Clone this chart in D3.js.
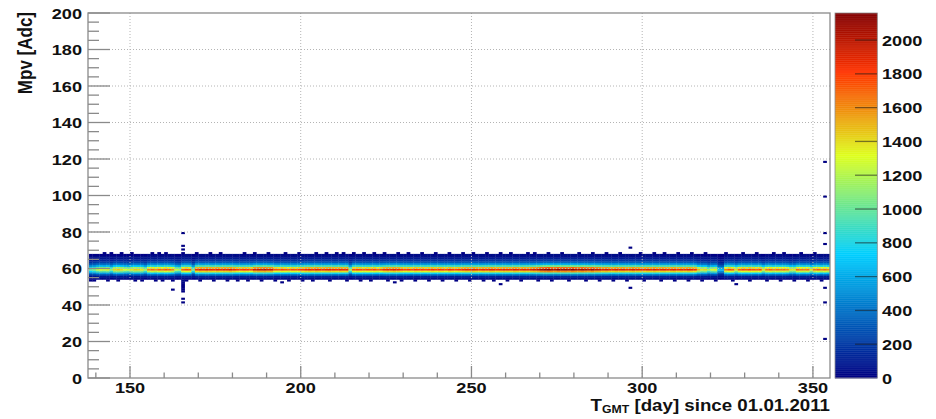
<!DOCTYPE html>
<html><head><meta charset="utf-8">
<script src="https://cdn.jsdelivr.net/npm/d3@7"></script>
<style>
body{margin:0;background:#fff}
text{font-family:"Liberation Sans",Arial,Helvetica,sans-serif;font-weight:bold;fill:#111}
</style>
</head><body>
<svg id="c" width="936" height="419"></svg>
<script>
// ---------- data ----------
const dayStart = 138; // first 1-day bin
// peak (Mpv ~59-60 Adc bin) entries per day, days 138..354
const peakCounts = [
 1000,1080,1250,1320,1280,1350,1100,1420,1460,1400,
 1300,1250,1380,1450,1420,1380,1150,1620,1680,1600,
 1700,1650,1720,1680,1600,1250,1180,1700,1760,1720,
 1050,1850,1900,1870,1920,1880,1850,1900,1860,1890,
 1880,1920,1860,1800,1780,1820,1800,1760,1950,1980,
 1960,2000,1940,1950,1750,1720,1780,1740,1700,1760,
 1730,1770,1800,1860,1880,1840,1900,1870,1850,1880,
 1900,1860,1840,1880,1850,1870,1150,1750,1780,1760,
 1720,1760,1740,1780,1700,1760,1850,1880,1860,1900,
 1870,1820,1780,1800,1760,1820,1790,1810,1770,1800,
 1830,1780,1820,1800,1760,1840,1800,1780,1820,1850,
 1880,1860,1900,1870,1840,1880,1860,1900,1880,1850,
 1870,1900,1880,1860,1920,1890,1870,1900,1880,1920,
 1950,1990,2080,2120,2150,2100,2060,2130,2090,2110,
 2070,2140,2080,2050,2100,2060,2020,2080,2000,1980,
 1920,1950,1900,1880,1930,1900,1920,1880,1900,1940,
 1900,1880,1860,1900,1880,1920,1870,1890,1900,1860,
 1880,1900,1850,1880,1860,1900,1870,1840,1500,1380,
 1420,1150,1300,1350,700,650,1650,1750,1700,1420,
 1700,1760,1720,1780,1740,1700,1760,1400,1650,1700,
 1620,1680,1640,1660,1600,1400,1380,1680,1650,1620,
 1660,1400,1650,1700,1620,1680,1600
];
// Mpv bins of the band and their share of the peak bin
const profileBins  = [54,55,56,57,58,59,60,61,62,63,64,65,66,67];
const profileShape = [0.02,0.05,0.18,0.42,0.75,1.0,0.8,0.5,0.3,0.17,0.1,0.055,0.03,0.015];
// days where the band reaches one bin higher / lower
const topExtraDays = [142,144,147,150,156,158,160,165,169,173,176,183,186,190,195,199,204,207,210,212,215,218,221,224,228,231,235,239,243,247,250,254,258,261,266,268,272,276,281,285,289,293,299,303,306,310,314,318,324,329,333,338,341,346,350];
const bottomExtraDays = [138,139,143,146,151,153,157,159,162,166,170,174,178,181,184,188,192,196,200,203,208,213,217,220,225,229,233,237,241,245,249,253,256,260,264,269,273,278,283,287,291,295,300,305,309,313,317,321,326,331,336,340,344,348,352];
// isolated entries: [day, Mpv bin, count]
const outliers = [
 [165,79,4],[165,72,3],[165,70,5],[165,53,30],[165,52,25],[165,51,20],[165,50,15],[165,49,12],[165,48,10],[165,47,8],[165,43,4],[165,41,4],
 [162,48,4],[194,52,4],[227,52,3],[258,51,4],[296,71,4],[296,49,4],[327,51,4],
 [353,118,3],[353,99,3],[353,79,3],[353,73,3],[353,49,3],[353,41,3],[353,21,3]
];
const xTicks = [150,200,250,300,350];
const yTicks = [0,20,40,60,80,100,120,140,160,180,200];
const zTicks = [0,200,400,600,800,1000,1200,1400,1600,1800,2000];
const zMax = 2160;
const paletteStops = [0,0.34,0.61,0.84,1.0];
const paletteColors = ["rgb(0,0,130)","rgb(0,207,255)","rgb(222,255,31)","rgb(255,51,0)","rgb(130,0,0)"];

// ---------- drawing ----------
const svg = d3.select("#c");
const x = d3.scaleLinear().domain([137.7,355]).range([88,830]);
const y = d3.scaleLinear().domain([0,200]).range([378,13]);
const zAx = d3.scaleLinear().domain([0,zMax]).range([378,13]);
const color = d3.scaleLinear().domain(paletteStops.map(s=>s*zMax)).range(paletteColors)
  .interpolate(d3.interpolateRgb).clamp(true);
const SX = 1.17; // horizontal stretch of the lettering

// cells
const cells = [];
peakCounts.forEach((p,i)=>{
  const day = dayStart+i;
  profileBins.forEach((b,j)=>cells.push({day, bin:b, v:Math.max(8,p*profileShape[j])}));
});
topExtraDays.forEach(d=>cells.push({day:d, bin:68, v:10}));
bottomExtraDays.forEach(d=>cells.push({day:d, bin:53, v:10}));
outliers.forEach(o=>cells.push({day:o[0], bin:o[1], v:o[2]}));

const defs = svg.append("defs");
defs.append("filter").attr("id","soft").attr("x","-5%").attr("y","-50%").attr("width","110%").attr("height","200%")
  .append("feGaussianBlur").attr("stdDeviation","0.45");
defs.append("clipPath").attr("id","frame").append("rect").attr("x",88).attr("y",13).attr("width",742).attr("height",365);

svg.append("g").attr("clip-path","url(#frame)").append("g").attr("filter","url(#soft)")
  .selectAll("rect").data(cells).join("rect")
  .attr("x",d=>x(d.day)).attr("width",d=>x(d.day+1)-x(d.day)+0.3)
  .attr("y",d=>y(d.bin+1)).attr("height",d=>y(d.bin)-y(d.bin+1)+0.3)
  .attr("fill",d=>color(d.v));

// grid
const grid = svg.append("g").attr("stroke","#b4b4b4").attr("stroke-width",1).attr("stroke-dasharray","1,2");
grid.selectAll("line.gx").data(xTicks).join("line").attr("x1",d=>x(d)).attr("x2",d=>x(d)).attr("y1",13).attr("y2",378);
grid.selectAll("line.gy").data(yTicks.filter(v=>v>0&&v<200)).join("line").attr("y1",d=>y(d)).attr("y2",d=>y(d)).attr("x1",88).attr("x2",830);

// frame
svg.append("rect").attr("x",88).attr("y",13).attr("width",742).attr("height",365)
  .attr("fill","none").attr("stroke","#8a8a8a").attr("stroke-width",1.3);

// ticks
const tk = svg.append("g").attr("stroke","#8a8a8a").attr("stroke-width",1.3);
const yMinor = d3.range(0,201,5).filter(v=>v%20!==0);
const xMinor = d3.range(140,356,10).filter(v=>v%50!==0);
tk.selectAll("line.ym").data(yTicks).join("line").attr("x1",88).attr("x2",110).attr("y1",d=>y(d)).attr("y2",d=>y(d));
tk.selectAll("line.yn").data(yMinor).join("line").attr("x1",88).attr("x2",99).attr("y1",d=>y(d)).attr("y2",d=>y(d));
tk.selectAll("line.xm").data(xTicks).join("line").attr("y1",378).attr("y2",366).attr("x1",d=>x(d)).attr("x2",d=>x(d));
tk.selectAll("line.xn").data(xMinor).join("line").attr("y1",378).attr("y2",372.5).attr("x1",d=>x(d)).attr("x2",d=>x(d));

// tick labels
const FS = 15.5;
svg.append("g").selectAll("g").data(yTicks).join("g")
  .attr("transform",d=>`translate(82,${y(d)+5.5}) scale(${SX},1)`)
  .append("text").attr("text-anchor","end").attr("font-size",FS).text(d=>d);
svg.append("g").selectAll("g").data(xTicks).join("g")
  .attr("transform",d=>`translate(${x(d)},393) scale(${SX},1)`)
  .append("text").attr("text-anchor","middle").attr("font-size",FS).text(d=>d);

// axis titles
svg.append("g").attr("transform",`translate(31.5,12) scale(${SX},1) rotate(-90)`)
  .append("text").attr("text-anchor","end").attr("font-size",17).text("Mpv [Adc]");
const xt = svg.append("g").attr("transform",`translate(830,411) scale(${SX},1)`)
  .append("text").attr("text-anchor","end").attr("font-size",16);
xt.append("tspan").text("T");
xt.append("tspan").attr("font-size",10.5).attr("dy",2).text("GMT");
xt.append("tspan").attr("dy",-2).text(" [day] since 01.01.2011");

// colour bar
const cb = svg.append("g");
const zSteps = d3.range(0,zMax,4);
cb.selectAll("rect").data(zSteps).join("rect")
  .attr("x",835).attr("width",42.3)
  .attr("y",d=>zAx(d+4)).attr("height",d=>zAx(d)-zAx(d+4)+0.4)
  .attr("fill",d=>color(d+2));
cb.append("rect").attr("x",835).attr("y",13).attr("width",42.3).attr("height",365)
  .attr("fill","none").attr("stroke","#909090").attr("stroke-width",0.8);
cb.selectAll("line").data(zTicks.filter(v=>v>0)).join("line")
  .attr("x1",855).attr("x2",877).attr("y1",d=>zAx(d)).attr("y2",d=>zAx(d))
  .attr("stroke","#1a1a1a").attr("stroke-opacity",0.55).attr("stroke-width",1.3);
svg.append("g").selectAll("g").data(zTicks).join("g")
  .attr("transform",d=>`translate(882,${zAx(d)+5.5}) scale(${SX},1)`)
  .append("text").attr("text-anchor","start").attr("font-size",FS).text(d=>d);
</script>
</body></html>
